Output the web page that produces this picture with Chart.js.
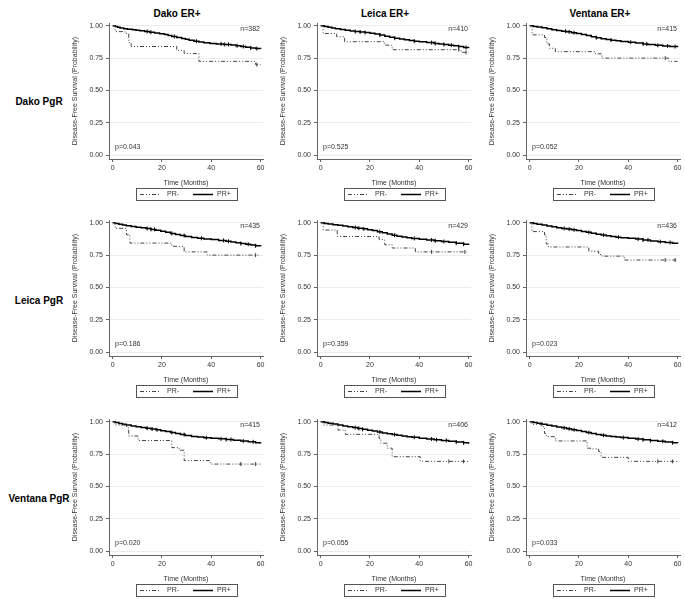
<!DOCTYPE html>
<html>
<head>
<meta charset="utf-8">
<script src="https://cdn.jsdelivr.net/npm/chart.js@4.4.0/dist/chart.umd.min.js"></script>
<style>
body { margin: 0; background: #fff; }
#wrap { position: relative; width: 685px; height: 599px; overflow: hidden; font-family: "Liberation Sans", Arial, sans-serif; }
.lab { position: absolute; font-weight: bold; font-size: 10px; color: #000; white-space: nowrap; transform: translate(-50%, -50%); }
canvas { position: absolute; }
</style>
</head>
<body>
<div id="wrap"></div>
<script>
const colTitles = ["Dako ER+", "Leica ER+", "Ventana ER+"];
const rowTitles = ["Dako PgR", "Leica PgR", "Ventana PgR"];
const nText = ["n=382", "n=410", "n=415", "n=435", "n=429", "n=436", "n=415", "n=406", "n=412"];
const pText = ["p=0.043", "p=0.525", "p=0.052", "p=0.186", "p=0.359", "p=0.023", "p=0.020", "p=0.055", "p=0.033"];
const xTicks = [0, 20, 40, 60];
const yTicks = [0, 0.25, 0.5, 0.75, 1];

// PR- curves (event times, survival after the drop)
const negTimes = [
    [0, 1, 5, 6.5, 7.5, 26, 29, 35, 58, 60],
    [0, 1, 6.5, 9.7, 26, 29, 57, 60],
    [0, 1, 6, 7, 8, 10.4, 26.7, 29.3, 56.5, 60],
    [0, 1, 5.6, 7, 24, 29, 38.3, 60],
    [0, 1, 6.7, 23.7, 26, 29, 38.4, 60],
    [0, 0.9, 6, 6.7, 7.6, 24, 28, 29.3, 38.4, 60],
    [0, 1, 5.6, 6.5, 10.3, 24, 27, 29, 39.6, 60],
    [0, 1, 7, 10, 23.7, 24.4, 27, 29, 40.4, 60],
    [0, 0.9, 4.7, 6, 6.7, 10.4, 23.3, 24.7, 28, 29, 40, 60]
];
const negSurv = [
    [1, 0.955, 0.94, 0.87, 0.84, 0.81, 0.785, 0.725, 0.70, 0.70],
    [1, 0.94, 0.915, 0.877, 0.85, 0.815, 0.795, 0.795],
    [1, 0.93, 0.91, 0.86, 0.826, 0.80, 0.783, 0.75, 0.725, 0.725],
    [1, 0.957, 0.907, 0.843, 0.818, 0.775, 0.75, 0.75],
    [1, 0.944, 0.894, 0.87, 0.83, 0.805, 0.775, 0.775],
    [1, 0.932, 0.907, 0.836, 0.813, 0.78, 0.755, 0.742, 0.712, 0.712],
    [1, 0.975, 0.954, 0.89, 0.855, 0.80, 0.78, 0.70, 0.673, 0.673],
    [1, 0.975, 0.936, 0.903, 0.872, 0.834, 0.796, 0.73, 0.694, 0.694],
    [1, 0.98, 0.962, 0.91, 0.885, 0.852, 0.796, 0.79, 0.77, 0.725, 0.694, 0.694]
];

// PR+ curves
const posTimes = [
    [0, 1, 2, 3, 4.5, 6, 8, 9.5, 11, 13, 15, 17, 19, 21, 22.5, 24, 26, 28, 29.5, 31, 33, 35, 37, 39.5, 42, 45, 48, 50, 52, 54, 56, 58, 60],
    [0, 1.5, 3, 4.5, 6, 8, 10, 12, 14, 16, 18, 20, 22, 24, 26, 28, 30, 32, 34, 36, 38, 40, 43, 46, 48, 50, 52, 54, 56, 58, 60],
    [0, 1.5, 3, 5, 7, 9, 11, 13, 15, 17, 19, 21, 23, 25, 27, 29, 31, 33, 35, 37, 40, 43, 46, 48, 51, 54, 57, 60],
    [0, 1, 2.5, 4, 5.5, 7.5, 9.5, 11.5, 13.5, 15.5, 17.5, 19.5, 21.5, 23.5, 25.5, 27.5, 29.5, 32, 34.5, 37, 40, 43, 46, 48, 50, 52, 54, 56, 58, 60],
    [0, 1.5, 3, 5, 7, 9, 11, 13, 15, 17, 19, 21, 23, 25, 27, 29, 31, 33, 35, 37, 40, 43, 46, 49, 52, 55, 58, 60],
    [0, 1.5, 3, 5, 7, 9, 11, 13, 15, 17, 19, 21, 23, 25, 27, 29, 31, 33, 35, 37, 40, 43, 46, 49, 52, 55, 58, 60],
    [0, 1, 2.5, 4, 5.5, 7.5, 9.5, 11.5, 13.5, 15.5, 17.5, 19.5, 21.5, 23.5, 25.5, 27.5, 29.5, 32, 34.5, 37, 40, 43, 46, 49, 52, 55, 58, 60],
    [0, 1.5, 3, 5, 7, 9, 11, 13, 15, 17, 19, 21, 23, 25, 27, 29, 31, 33, 35, 37, 40, 43, 46, 49, 52, 55, 58, 60],
    [0, 1.5, 3, 5, 7, 9, 11, 13, 15, 17, 19, 21, 23, 25, 27, 29, 31, 33, 35, 37, 40, 43, 46, 49, 52, 55, 58, 60]
];
const posSurv = [
    [1, 0.994, 0.988, 0.982, 0.978, 0.974, 0.970, 0.966, 0.961, 0.956, 0.950, 0.944, 0.938, 0.932, 0.925, 0.918, 0.910, 0.902, 0.895, 0.889, 0.881, 0.874, 0.869, 0.864, 0.860, 0.856, 0.852, 0.846, 0.840, 0.835, 0.829, 0.824, 0.820],
    [1, 0.994, 0.988, 0.983, 0.978, 0.972, 0.965, 0.960, 0.956, 0.952, 0.948, 0.943, 0.936, 0.928, 0.920, 0.912, 0.904, 0.898, 0.892, 0.886, 0.881, 0.876, 0.870, 0.864, 0.860, 0.855, 0.850, 0.845, 0.839, 0.832, 0.826],
    [1, 0.995, 0.990, 0.984, 0.977, 0.970, 0.964, 0.958, 0.953, 0.947, 0.940, 0.932, 0.924, 0.916, 0.908, 0.900, 0.894, 0.889, 0.884, 0.879, 0.873, 0.867, 0.860, 0.855, 0.849, 0.844, 0.839, 0.834],
    [1, 0.995, 0.989, 0.983, 0.977, 0.971, 0.966, 0.961, 0.956, 0.949, 0.942, 0.934, 0.926, 0.918, 0.910, 0.902, 0.894, 0.886, 0.880, 0.875, 0.870, 0.864, 0.857, 0.851, 0.845, 0.840, 0.834, 0.828, 0.822, 0.816],
    [1, 0.995, 0.990, 0.985, 0.980, 0.975, 0.969, 0.964, 0.958, 0.953, 0.947, 0.940, 0.931, 0.922, 0.913, 0.904, 0.896, 0.890, 0.884, 0.879, 0.873, 0.867, 0.861, 0.855, 0.849, 0.842, 0.835, 0.829],
    [1, 0.994, 0.988, 0.982, 0.976, 0.969, 0.962, 0.956, 0.951, 0.946, 0.940, 0.933, 0.926, 0.919, 0.912, 0.905, 0.899, 0.894, 0.889, 0.885, 0.880, 0.874, 0.867, 0.860, 0.854, 0.848, 0.841, 0.836],
    [1, 0.994, 0.987, 0.981, 0.975, 0.968, 0.962, 0.956, 0.950, 0.944, 0.938, 0.931, 0.924, 0.917, 0.909, 0.901, 0.894, 0.887, 0.882, 0.877, 0.873, 0.868, 0.863, 0.857, 0.851, 0.845, 0.838, 0.833],
    [1, 0.994, 0.988, 0.982, 0.975, 0.968, 0.961, 0.955, 0.949, 0.942, 0.935, 0.928, 0.921, 0.914, 0.908, 0.901, 0.895, 0.890, 0.885, 0.880, 0.873, 0.867, 0.861, 0.856, 0.850, 0.844, 0.837, 0.831],
    [1, 0.994, 0.988, 0.981, 0.974, 0.967, 0.960, 0.953, 0.946, 0.939, 0.932, 0.925, 0.917, 0.909, 0.902, 0.896, 0.891, 0.886, 0.882, 0.878, 0.873, 0.867, 0.861, 0.855, 0.849, 0.843, 0.838, 0.834]
];

// censored observations (months)
const posCensor = [
    [14, 15.5, 25, 34, 44, 45.5, 47, 50.5, 53, 56, 58.5],
    [14, 16, 18, 24, 30, 38, 45, 46.5, 50, 53, 56, 59],
    [14.5, 16, 18, 27, 33, 41, 46, 47.5, 52, 56, 59],
    [14, 15.5, 17, 24, 29, 36, 45, 47, 52, 55, 58],
    [14, 15.5, 17.5, 24, 30, 38, 45, 46.5, 50, 55, 58],
    [14, 16, 18, 24, 30, 36, 44, 46, 48, 53, 57],
    [14, 16, 18, 24, 29, 38, 44, 46, 48, 53, 57],
    [14, 15.5, 17, 24, 30, 38, 45, 47, 51, 55, 58],
    [14, 16, 18, 24, 30, 38, 44, 46, 49, 54, 58]
];
const negCensor = [
    [58.5], [56, 59], [55], [58], [45, 58.5], [55, 59], [52, 58], [52, 58], [52, 58]
];

const colX = [109, 317, 526];
const rowY = [21, 218, 417];
const colTitleX = [177, 385, 600];
const rowLabelY = [101, 300, 498];
const fam = '"Liberation Sans", Arial, sans-serif';

function stepAt(times, surv, t) {
    let s = surv[0];
    for (let i = 0; i < times.length; i++) {
        if (times[i] <= t) s = surv[i];
    }
    return s;
}

// n / p labels and boxed legend
const panelText = {
    id: "panelText",
    afterDraw(chart, args, opts) {
        const { ctx, chartArea: a } = chart;
        ctx.save();
        ctx.font = "7px " + fam;
        ctx.fillStyle = "#333";
        ctx.textBaseline = "middle";
        ctx.textAlign = "right";
        ctx.fillText(opts.n, a.right - 3, a.top + 6);
        ctx.textAlign = "left";
        ctx.fillText(opts.p, a.left + 6, a.bottom - 12);

        const cx = (a.left + a.right) / 2;
        const bx = Math.round(cx - 50.5);
        const by = Math.round(a.bottom + 29);
        ctx.strokeStyle = "#555";
        ctx.lineWidth = 1;
        ctx.strokeRect(bx + 0.5, by + 0.5, 101, 12);
        const ly = by + 6.5;
        const items = chart.data.datasets.filter((d) => !d.censor);
        items.forEach((d, i) => {
            const x0 = bx + (i ? 57 : 4);
            ctx.beginPath();
            ctx.setLineDash(d.borderDash || []);
            ctx.strokeStyle = d.borderColor;
            ctx.lineWidth = d.borderWidth;
            ctx.moveTo(x0, ly);
            ctx.lineTo(x0 + 20, ly);
            ctx.stroke();
            ctx.setLineDash([]);
            ctx.fillStyle = "#333";
            ctx.fillText(d.label, x0 + (i ? 24 : 27), ly);
        });
        ctx.restore();
    }
};

const wrap = document.getElementById("wrap");

colTitles.forEach((t, c) => {
    const d = document.createElement("div");
    d.className = "lab";
    d.textContent = t;
    d.style.left = colTitleX[c] + "px";
    d.style.top = "13px";
    wrap.appendChild(d);
});
rowTitles.forEach((t, r) => {
    const d = document.createElement("div");
    d.className = "lab";
    d.textContent = t;
    d.style.left = "39px";
    d.style.top = rowLabelY[r] + "px";
    wrap.appendChild(d);
});

for (let r = 0; r < 3; r++) {
    for (let c = 0; c < 3; c++) {
        const k = r * 3 + c;
        const cv = document.createElement("canvas");
        cv.width = 199;
        cv.height = 186;
        cv.style.left = colX[c] - 40 + "px";
        cv.style.top = rowY[r] - 5 + "px";
        wrap.appendChild(cv);

        const negData = negTimes[k].map((t, i) => ({ x: t, y: negSurv[k][i] }));
        const posData = posTimes[k].map((t, i) => ({ x: t, y: posSurv[k][i] }));
        const posCens = posCensor[k].map((t) => ({ x: t, y: stepAt(posTimes[k], posSurv[k], t) }));
        const negCens = negCensor[k].map((t) => ({ x: t, y: stepAt(negTimes[k], negSurv[k], t) }));

        new Chart(cv.getContext("2d"), {
            type: "line",
            data: {
                datasets: [
                    {
                        label: "PR-",
                        data: negData,
                        stepped: "before",
                        borderColor: "#444",
                        borderWidth: 1,
                        borderDash: [4, 2, 1, 2, 1, 2],
                        pointRadius: 0,
                        fill: false,
                    },
                    {
                        label: "PR+",
                        data: posData,
                        stepped: "before",
                        borderColor: "#000",
                        borderWidth: 1.5,
                        pointRadius: 0,
                        fill: false,
                    },
                    {
                        censor: true,
                        data: posCens,
                        showLine: false,
                        pointStyle: "line",
                        rotation: 90,
                        pointRadius: 2,
                        borderColor: "#000",
                        borderWidth: 1,
                    },
                    {
                        censor: true,
                        data: negCens,
                        showLine: false,
                        pointStyle: "line",
                        rotation: 90,
                        pointRadius: 2,
                        borderColor: "#444",
                        borderWidth: 1,
                    },
                ],
            },
            options: {
                responsive: false,
                animation: false,
                layout: { padding: { top: 5, bottom: 15, left: 0, right: 3 } },
                plugins: {
                    legend: { display: false },
                    tooltip: { enabled: false },
                    panelText: { n: nText[k], p: pText[k] },
                },
                scales: {
                    x: {
                        type: "linear",
                        min: -1.5,
                        max: 61,
                        afterBuildTicks: (s) => {
                            s.ticks = xTicks.map((v) => ({ value: v }));
                        },
                        afterFit: (s) => {
                            s.height = 28;
                        },
                        ticks: {
                            font: { size: 7, family: fam },
                            color: "#333",
                            padding: 2,
                            maxRotation: 0,
                            autoSkip: false,
                        },
                        grid: { drawOnChartArea: false, tickLength: 3, tickColor: "#666" },
                        border: { color: "#666" },
                        title: {
                            display: true,
                            text: "Time (Months)",
                            font: { size: 7, family: fam },
                            color: "#333",
                            padding: { top: 0, bottom: 0 },
                        },
                    },
                    y: {
                        type: "linear",
                        min: -0.03,
                        max: 1.02,
                        afterBuildTicks: (s) => {
                            s.ticks = yTicks.map((v) => ({ value: v }));
                        },
                        afterFit: (s) => {
                            s.width = 40;
                        },
                        ticks: {
                            font: { size: 7, family: fam },
                            color: "#333",
                            padding: 3,
                            callback: (v) => v.toFixed(2),
                        },
                        grid: { color: "#ececec", tickLength: 3, tickColor: "#666" },
                        border: { color: "#666" },
                        title: {
                            display: true,
                            text: "Disease-Free Survival (Probability)",
                            font: { size: 7, family: fam },
                            color: "#333",
                            padding: { top: 2, bottom: 0 },
                        },
                    },
                },
            },
            plugins: [panelText],
        });
    }
}
</script>
</body>
</html>
